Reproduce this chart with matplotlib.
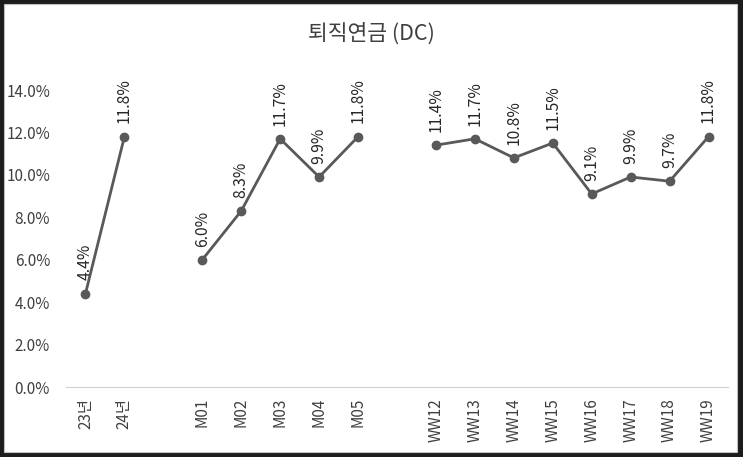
import numpy as np
import matplotlib.pyplot as plt
from matplotlib.patches import Rectangle

plt.rcParams['font.family'] = ['Noto Sans CJK KR', 'DejaVu Sans']

# categories, blank entries leave a gap between groups
categories = ['23년', '24년', '', 'M01', 'M02', 'M03', 'M04', 'M05', '',
              'WW12', 'WW13', 'WW14', 'WW15', 'WW16', 'WW17', 'WW18', 'WW19']
values = [4.4, 11.8, np.nan, 6.0, 8.3, 11.7, 9.9, 11.8, np.nan,
          11.4, 11.7, 10.8, 11.5, 9.1, 9.9, 9.7, 11.8]

fig = plt.figure(figsize=(7.43, 4.57), dpi=100)
fig.patch.set_facecolor('#1c1c1c')
fig.patches.append(Rectangle((4/743, 5/457), 733/743, 448/457, transform=fig.transFigure,
                             facecolor='white', edgecolor='#bfbfbf', lw=0.8, zorder=-10))

ax = fig.add_axes([66/743, 1 - 387/457, 662/743, 297/457])
ax.set_facecolor('none')

x = np.arange(len(categories))
y = np.array(values)
ax.plot(x, y, color='#595959', lw=2, marker='o', ms=6, zorder=3)

for xi, yi in zip(x, y):
    if np.isnan(yi):
        continue
    ax.annotate(f'{yi:.1f}%', (xi, yi), xytext=(0, 9.5), textcoords='offset points',
                rotation=90, ha='center', va='bottom', fontsize=11.3, color='#262626')

ax.set_xlim(-0.5, len(categories) - 0.5)
ax.set_ylim(0, 14)
ax.set_yticks(np.arange(0, 14.1, 2))
ax.set_yticklabels([f'{v:.1f}%' for v in np.arange(0, 14.1, 2)], fontsize=11, color='#404040')
ax.set_xticks(x)
ax.set_xticklabels(categories, rotation=90, fontsize=11, color='#404040')
ax.tick_params(length=0, pad=8)
ax.tick_params(axis='y', pad=11.5)

for s in ['top', 'right', 'left']:
    ax.spines[s].set_visible(False)
ax.spines['bottom'].set_color('#d0d0d0')

fig.text(0.5, 1 - 34/457, '퇴직연금 (DC)', ha='center', va='center', fontsize=15.5, color='#404040')

fig.savefig('out.png', dpi=100, facecolor=fig.get_facecolor())
